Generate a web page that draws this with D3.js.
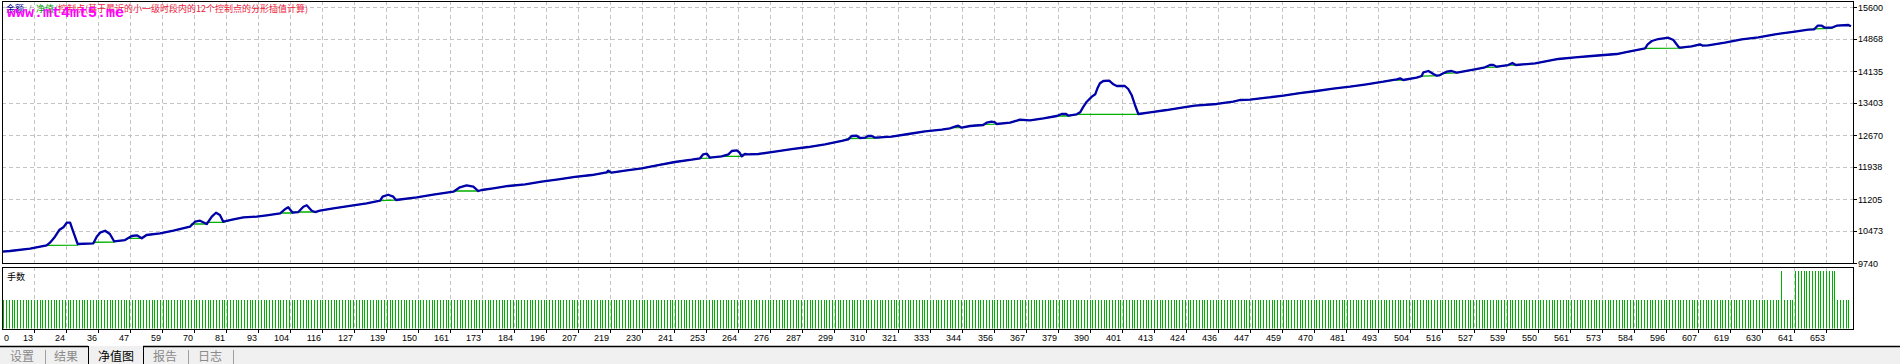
<!DOCTYPE html>
<html><head><meta charset="utf-8">
<script src="https://cdn.jsdelivr.net/npm/d3@7/dist/d3.min.js"></script>
<style>
html,body{margin:0;padding:0;background:#fff;overflow:hidden}
svg{display:block}
text{font-family:"Liberation Sans",Arial,sans-serif}
</style>
</head><body>
<svg id="c" width="1900" height="364"></svg>
<script>
// ---------- data ----------
const yTickLabels = [9740,10473,11205,11938,12670,13403,14135,14868,15600];
const xTickLabels = [0,13,24,36,47,59,70,81,93,104,116,127,139,150,161,173,184,196,207,219,230,241,253,264,276,287,299,310,321,333,344,356,367,379,390,401,413,424,436,447,459,470,481,493,504,516,527,539,550,561,573,584,596,607,619,630,641,653];

// blue line: [trade number, value]
const blueLine = [
[1,10000],[4.4,10015],[11.6,10067],[17.5,10145],[18.7,10205],[20.5,10342],[22.0,10495],[23.5,10557],[24.7,10662],[25.9,10662],[27.0,10456],[28.6,10175],
[34.2,10191],[35.4,10342],[36.6,10434],[38.4,10479],[40.1,10404],[41.6,10237],
[45.5,10266],[47.9,10358],[49.7,10374],[51.5,10305],[53.2,10381],
[58.0,10420],[62.8,10479],[68.7,10571],[70.5,10685],[72.3,10708],[74.7,10633],[76.5,10800],[78.0,10891],[79.4,10839],[80.6,10685],
[84.2,10740],[87.8,10786],[92.5,10800],[96.1,10832],[100.9,10878],[102.6,10969],[103.8,11015],[105.4,10891],[107.4,10907],[109.2,11029],[110.4,11061],[112.2,10937],[113.4,10907],[115.1,10937],
[119.9,10992],[127.0,11061],[131.8,11107],[136.6,11166],[137.5,11258],[139.5,11303],[141.3,11258],[142.3,11182],
[149.7,11244],[155.6,11303],[162.8,11372],[165.1,11473],[167.5,11519],[169.9,11487],[171.7,11388],[172.9,11411],
[177.0,11450],[182.4,11503],[188.4,11541],[194.3,11601],[200.3,11656],[206.2,11709],[212.2,11754],[217.5,11816],[218.1,11853],[219.3,11807],
[224.1,11853],[230.0,11908],[236.0,11983],[241.9,12052],[247.9,12105],[250.9,12137],[252.0,12228],[253.3,12242],[254.4,12150],
[258.6,12182],[261.0,12228],[262.2,12304],[264.0,12320],[264.9,12274],[265.8,12182],[266.9,12235],[268.1,12228],
[271.7,12235],[277.6,12288],[283.6,12349],[289.5,12395],[295.5,12457],[301.5,12533],[303.8,12571],[305.0,12647],[306.8,12654],[308.0,12601],[309.8,12608],[310.9,12647],[312.2,12647],[313.4,12608],
[319.3,12631],[325.3,12693],[331.2,12755],[337.2,12791],[340.1,12823],[341.9,12860],[343.1,12883],[344.3,12837],
[347.3,12876],[352.0,12899],[353.2,12952],[355.0,12974],[356.2,12961],[356.8,12922],
[361.6,12952],[364.0,12997],[365.1,13020],[368.7,13006],[373.5,13052],[378.3,13105],[380.0,13151],[381.6,13151],[382.4,13112],
[385.4,13144],[386.6,13190],[387.8,13318],[389.0,13432],[390.8,13547],[392.0,13602],[392.8,13739],[393.7,13853],[394.9,13906],[397.0,13913],[398.5,13830],[399.7,13792],[402.6,13792],[403.8,13723],[405.0,13586],[406.2,13357],[407.4,13151],
[411.6,13190],[417.5,13242],[423.5,13304],[427.6,13341],[435.4,13380],[441.3,13432],[443.7,13471],[447.3,13478],[453.2,13524],[459.2,13570],[465.1,13631],[471.1,13677],[477.0,13730],[483.0,13776],[488.9,13830],[494.9,13890],[499.7,13945],[500.9,13968],[502.0,13929],
[506.8,13982],[508.6,14020],[509.2,14105],[511.0,14135],[512.8,14066],[514.0,14027],[515.1,14043],[517.5,14119],[519.3,14135],[521.1,14096],[521.7,14105],
[527.6,14174],[531.2,14220],[533.0,14272],[534.2,14272],[535.4,14233],[539.5,14272],[541.0,14318],[542.2,14272],
[549.1,14311],[557.4,14410],[563.4,14449],[569.3,14478],[578.3,14524],[581.2,14563],[588.4,14655],[589.3,14746],[590.8,14822],[593.1,14867],[596.7,14897],[598.5,14844],[600.3,14691],[600.9,14668],
[605.0,14700],[608.0,14746],[609.0,14714],[610.9,14723],[616.9,14783],[622.9,14860],[628.8,14906],[634.8,14975],[641.9,15035],[646.7,15080],[648.8,15089],[650.0,15172],[651.5,15172],[652.6,15126],[655.0,15126],[656.8,15172],[661.0,15188],[661.9,15158]
];

// green line: [trade number, value]
const greenLine = [
[1,10000],[4.4,10015],[11.6,10067],[17.5,10145],[28.6,10150],[28.7,10175],
[34.2,10191],[34.3,10215],[41.6,10220],[41.7,10237],
[45.5,10266],[46.5,10305],[51.5,10305],[53.2,10381],
[58.0,10420],[62.8,10479],[68.7,10571],[69.3,10633],[74.7,10633],[74.8,10672],[80.6,10672],
[84.2,10740],[87.8,10786],[92.5,10800],[96.1,10832],[100.9,10878],[101.5,10885],[105.4,10885],[105.5,10907],[113.4,10907],[115.1,10937],
[119.9,10992],[127.0,11061],[131.8,11107],[136.6,11170],[142.3,11182],
[149.7,11244],[155.6,11303],[162.8,11372],[163.5,11388],[171.7,11388],[172.9,11411],
[177.0,11450],[182.4,11503],[188.4,11541],[194.3,11601],[200.3,11656],[206.2,11709],[212.2,11754],[217.0,11807],[219.3,11807],
[224.1,11853],[230.0,11908],[236.0,11983],[241.9,12052],[247.9,12105],[250.9,12137],[254.4,12140],[254.5,12150],
[258.6,12182],[265.8,12182],[266.0,12228],[268.1,12228],
[271.7,12235],[277.6,12288],[283.6,12349],[289.5,12395],[295.5,12457],[301.5,12533],[303.8,12590],[313.4,12600],
[319.3,12631],[325.3,12693],[331.2,12755],[337.2,12791],[340.1,12823],[340.5,12837],[344.3,12837],
[347.3,12876],[352.0,12912],[356.8,12918],
[361.6,12952],[364.0,12997],[368.7,13006],[373.5,13052],[378.3,13105],[382.4,13105],
[385.4,13144],[407.4,13144],
[411.6,13190],[417.5,13242],[423.5,13304],[427.6,13341],[435.4,13380],[441.3,13432],[443.7,13471],[447.3,13478],[453.2,13524],[459.2,13570],[465.1,13631],[471.1,13677],[477.0,13730],[483.0,13776],[488.9,13830],[494.9,13890],[498.5,13929],[502.0,13929],
[506.8,13982],[508.6,14020],[515.1,14027],[516.3,14082],[521.1,14090],[521.7,14105],
[527.6,14174],[531.2,14220],[535.4,14225],[539.5,14272],[542.2,14272],
[549.1,14311],[557.4,14410],[563.4,14449],[569.3,14478],[578.3,14524],[581.2,14563],[588.4,14655],[600.9,14660],
[605.0,14700],[607.0,14720],[610.9,14723],[616.9,14783],[622.9,14860],[628.8,14906],[634.8,14975],[641.9,15035],[646.7,15080],[648.8,15100],[655.0,15112],[656.8,15172],[661.0,15188],[661.9,15158]
];

// lots per trade, as runs: [first trade, last trade, lots]
const lotRuns = [[1,636,0.01],[637,637,0.02],[638,641,0.01],[642,656,0.02],[657,661,0.01]];

const tabLabels = ["设置","结果","净值图","报告","日志"];

// ---------- layout ----------
const W = 1900, H = 364;
const L = 2, R = 1853;
const mainTop = 1, mainBot = 263;
const lowTop = 267, lowBot = 329;

const svg = d3.select("#c");

const x = d3.scaleLinear().domain([13, 653]).range([34, 1826]);
const xTicks = d3.scalePoint().domain(xTickLabels).range([L, L + 32 * (xTickLabels.length - 1)]);
const y = d3.scaleLinear().domain([9740, 15600]).range([263, 7]);
const yLots = d3.scaleLinear().domain([0, 0.02]).range([lowBot, 271]);

const defs = svg.append("defs");
defs.append("clipPath").attr("id","clipMain").append("rect")
  .attr("x", L + 0.5).attr("y", mainTop + 0.5).attr("width", R - L - 1).attr("height", mainBot - mainTop - 1);
defs.append("clipPath").attr("id","clipLow").append("rect")
  .attr("x", L + 0.5).attr("y", lowTop + 0.5).attr("width", R - L - 1).attr("height", lowBot - lowTop - 1);

// grid
const gridColor = "#c4c4c4";
const vx = xTickLabels.slice(1).map(d => Math.round(xTicks(d)) + 0.5);
svg.append("g").selectAll("line").data(vx).join("line")
  .attr("x1", d => d).attr("x2", d => d).attr("y1", mainTop).attr("y2", mainBot)
  .attr("stroke", gridColor).attr("stroke-dasharray", "4,3");
svg.append("g").selectAll("line").data(vx).join("line")
  .attr("x1", d => d).attr("x2", d => d).attr("y1", lowTop).attr("y2", lowBot)
  .attr("stroke", gridColor).attr("stroke-dasharray", "4,3");
svg.append("g").selectAll("line").data(yTickLabels.slice(1)).join("line")
  .attr("x1", L).attr("x2", R).attr("y1", d => Math.round(y(d)) + 0.5).attr("y2", d => Math.round(y(d)) + 0.5)
  .attr("stroke", gridColor).attr("stroke-dasharray", "4,3");

// bars
const trades = [];
lotRuns.forEach(([a, b, v]) => { for (let t = a; t <= b; t++) trades.push({t, v}); });
svg.append("g").attr("clip-path","url(#clipLow)").selectAll("rect").data(trades).join("rect")
  .attr("x", d => Math.round(x(d.t))).attr("width", 1)
  .attr("y", d => Math.round(yLots(d.v))).attr("height", d => lowBot - Math.round(yLots(d.v)))
  .attr("fill", "#00b000").attr("shape-rendering","crispEdges");

// lines
const line = d3.line().x(d => x(d[0])).y(d => y(d[1]));
const gm = svg.append("g").attr("clip-path","url(#clipMain)");
gm.append("path").attr("d", line(greenLine)).attr("fill","none").attr("stroke","#00b000").attr("stroke-width",1.3);
gm.append("path").attr("d", line(blueLine)).attr("fill","none").attr("stroke","#0000aa").attr("stroke-width",2.3)
  .attr("stroke-linejoin","round");

// pane borders
[[mainTop, mainBot],[lowTop, lowBot]].forEach(([t, b]) => {
  svg.append("rect").attr("x", L + 0.5).attr("y", t + 0.5).attr("width", R - L).attr("height", b - t)
    .attr("fill","none").attr("stroke","#000").attr("shape-rendering","crispEdges");
});

// y axis
const ya = svg.append("g");
ya.selectAll("line").data(yTickLabels).join("line")
  .attr("x1", R).attr("x2", R + 4).attr("y1", d => Math.round(y(d)) + 0.5).attr("y2", d => Math.round(y(d)) + 0.5)
  .attr("stroke","#000");
ya.selectAll("text").data(yTickLabels).join("text")
  .attr("x", R + 5).attr("y", d => y(d) + 3.5).attr("font-size", 9).attr("fill","#000").text(d => d);

// x axis
const xa = svg.append("g");
xa.selectAll("line").data(xTickLabels.slice(1)).join("line")
  .attr("x1", d => Math.round(xTicks(d)) + 0.5).attr("x2", d => Math.round(xTicks(d)) + 0.5)
  .attr("y1", lowBot).attr("y2", lowBot + 4).attr("stroke","#000");
xa.selectAll("text").data(xTickLabels).join("text")
  .attr("x", (d, i) => i === 0 ? L + 2 : xTicks(d) - 1)
  .attr("text-anchor", (d, i) => i === 0 ? "start" : "end")
  .attr("y", 341).attr("font-size", 9).attr("fill","#000").text(d => d);

// title
const cjk = '"Noto Sans CJK SC","Noto Sans",sans-serif';
const title = svg.append("text").attr("y", 12).attr("font-size", 9).style("font-family", cjk);
title.append("tspan").attr("x", 6).attr("fill","#00008b").text("余额");
title.append("tspan").attr("x", 28).attr("fill","#808080").text("/");
title.append("tspan").attr("x", 36).attr("fill","#00a000").text("净值");
title.append("tspan").attr("x", 54).attr("fill","#808080").text("/");
title.append("tspan").attr("x", 58).attr("fill","#f0203c").text("控制点(基于最近的小一级时段内的12个控制点的分形插值计算)");

svg.append("text").attr("x", 7).attr("y", 17).attr("font-size", 15).attr("font-weight","bold")
  .style("font-family",'"Liberation Mono","DejaVu Sans Mono",monospace').attr("fill","#ff00ff").text("www.mt4mt5.me");

svg.append("text").attr("x", 7).attr("y", 280).attr("font-size", 9).style("font-family", cjk).attr("fill","#000").text("手数");

// tab strip
svg.append("rect").attr("x",0).attr("y",346).attr("width",W).attr("height",H-346).attr("fill","#f0f0f0");
svg.append("line").attr("x1",0).attr("x2",88).attr("y1",346.5).attr("y2",346.5).attr("stroke","#000").attr("stroke-width",1.5);
svg.append("line").attr("x1",143).attr("x2",W).attr("y1",346.5).attr("y2",346.5).attr("stroke","#000").attr("stroke-width",1.5);
[88.5,143.5].forEach(xx => svg.append("line").attr("x1",xx).attr("x2",xx).attr("y1",346).attr("y2",H).attr("stroke","#000"));
[45.5,188.5,233.5].forEach(xx => svg.append("line").attr("x1",xx).attr("x2",xx).attr("y1",350).attr("y2",H).attr("stroke","#a0a0a0"));
const tabX = [22, 66, 116, 165, 210];
svg.append("g").selectAll("text").data(tabLabels).join("text")
  .attr("x", (d, i) => tabX[i]).attr("y", 361).attr("text-anchor","middle").attr("font-size", 12)
  .style("font-family", cjk).attr("fill", (d, i) => i === 2 ? "#000" : "#8a8a8a").text(d => d);
</script>
</body></html>
